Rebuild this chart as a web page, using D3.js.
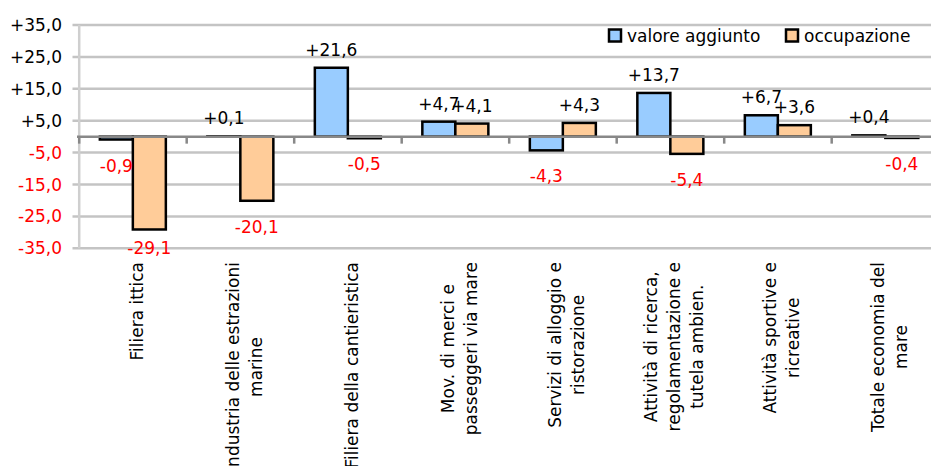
<!DOCTYPE html>
<html>
<head>
<meta charset="utf-8">
<script src="https://cdn.jsdelivr.net/npm/d3@7"></script>
<style>
  body { margin: 0; background: #fff; }
  text { font-family: "DejaVu Sans", Verdana, sans-serif; }
</style>
</head>
<body>
<div id="chart"></div>
<script>
// categories (already wrapped into lines, like the original)
var categories = [
  ["Filiera ittica"],
  ["Industria delle estrazioni", "marine"],
  ["Filiera della cantieristica"],
  ["Mov. di merci e", "passeggeri via mare"],
  ["Servizi di alloggio e", "ristorazione"],
  ["Attività di ricerca,", "regolamentazione e", "tutela ambien."],
  ["Attività sportive e", "ricreative"],
  ["Totale economia del", "mare"]
];
var valoreAggiunto = [-0.9, 0.1, 21.6, 4.7, -4.3, 13.7, 6.7, 0.4];
var occupazione = [-29.1, -20.1, -0.5, 4.1, 4.3, -5.4, 3.6, -0.4];
var seriesNames = ["valore aggiunto", "occupazione"];
var yTicks = [-35, -25, -15, -5, 5, 15, 25, 35];

var width = 931, height = 466;
var colors = ["#99ccff", "#ffcc99"];

var svg = d3.select("#chart").append("svg")
  .attr("width", width)
  .attr("height", height);

var x = d3.scaleBand()
  .domain(d3.range(categories.length))
  .range([79.2, 79.2 + 8 * 107.5]);

var y = d3.scaleLinear()
  .domain([-35, 35])
  .range([248.3, 25]);

function fmt(v) {
  var s = Math.abs(v).toFixed(1).replace(".", ",");
  return (v < 0 ? "-" : "+") + s;
}

// gridlines
svg.append("g")
  .selectAll("line")
  .data(yTicks)
  .enter().append("line")
    .attr("x1", 72.5)
    .attr("x2", width)
    .attr("y1", function(d) { return y(d); })
    .attr("y2", function(d) { return y(d); })
    .style("stroke", "#c4c4c4")
    .style("stroke-width", 2.5);

// y axis line
svg.append("line")
  .attr("x1", 79.2).attr("x2", 79.2)
  .attr("y1", y(35)).attr("y2", y(-35))
  .style("stroke", "#cfcfcf")
  .style("stroke-width", 2.5);

// y tick labels
svg.append("g")
  .selectAll("text")
  .data(yTicks)
  .enter().append("text")
    .attr("x", 62)
    .attr("y", function(d) { return y(d) + 6; })
    .attr("text-anchor", "end")
    .attr("font-size", "17px")
    .attr("fill", function(d) { return d < 0 ? "#ff0000" : "#000"; })
    .text(fmt);

// bars
var bw = x.bandwidth();
var series = [valoreAggiunto, occupazione];
series.forEach(function(vals, s) {
  svg.append("g")
    .selectAll("rect")
    .data(vals)
    .enter().append("rect")
      .attr("x", function(d, i) { return x(i) + bw * 0.192 + s * bw * 0.307; })
      .attr("y", function(d) { return y(Math.max(0, d)); })
      .attr("width", bw * 0.307)
      .attr("height", function(d) { return Math.abs(y(d) - y(0)); })
      .style("fill", colors[s])
      .style("stroke", "#000")
      .style("stroke-width", 2.5);
});

// zero line and category ticks
svg.append("line")
  .attr("x1", 77).attr("x2", width)
  .attr("y1", y(0)).attr("y2", y(0))
  .style("stroke", "#888")
  .style("stroke-width", 2.5);

svg.append("g")
  .selectAll("line")
  .data(d3.range(categories.length))
  .enter().append("line")
    .attr("x1", function(d) { return x(d); })
    .attr("x2", function(d) { return x(d); })
    .attr("y1", y(0))
    .attr("y2", y(0) + 7)
    .style("stroke", "#888")
    .style("stroke-width", 2.5);

// data labels
series.forEach(function(vals, s) {
  svg.append("g")
    .selectAll("text")
    .data(vals)
    .enter().append("text")
      .attr("x", function(d, i) { return x(i) + bw * 0.192 + s * bw * 0.307 + bw * 0.1535; })
      .attr("y", function(d) {
        return d >= 0 ? y(d) - 12 : Math.min(y(d) + 32, 254);
      })
      .attr("text-anchor", "middle")
      .attr("font-size", "17px")
      .attr("fill", function(d) { return d < 0 ? "#ff0000" : "#000"; })
      .text(fmt);
});

// category labels (rotated, lines centred on the longest one)
var lh = 23;
categories.forEach(function(lines, i) {
  var g = svg.append("g");
  var t = g.append("text")
    .attr("font-size", "17px")
    .attr("text-anchor", "middle");
  lines.forEach(function(l, j) {
    t.append("tspan")
      .attr("x", 0)
      .attr("y", (j - (lines.length - 1) / 2) * lh)
      .attr("dy", "0.35em")
      .text(l);
  });
  var maxLen = d3.max(t.selectAll("tspan").nodes(), function(n) { return n.getComputedTextLength(); });
  var cx = x(i) + bw / 2 + 4;
  var cy = 262 + maxLen / 2;
  g.attr("transform", "translate(" + cx + "," + cy + ") rotate(-90)");
});

// legend
var legend = svg.append("g");
var legendX = [609, 786];
seriesNames.forEach(function(name, s) {
  legend.append("rect")
    .attr("x", legendX[s]).attr("y", 29.5)
    .attr("width", 12).attr("height", 12)
    .style("fill", colors[s])
    .style("stroke", "#000")
    .style("stroke-width", 2.5);
  legend.append("text")
    .attr("x", legendX[s] + 18)
    .attr("y", 42)
    .attr("font-size", "17px")
    .text(name);
});
</script>
</body>
</html>
